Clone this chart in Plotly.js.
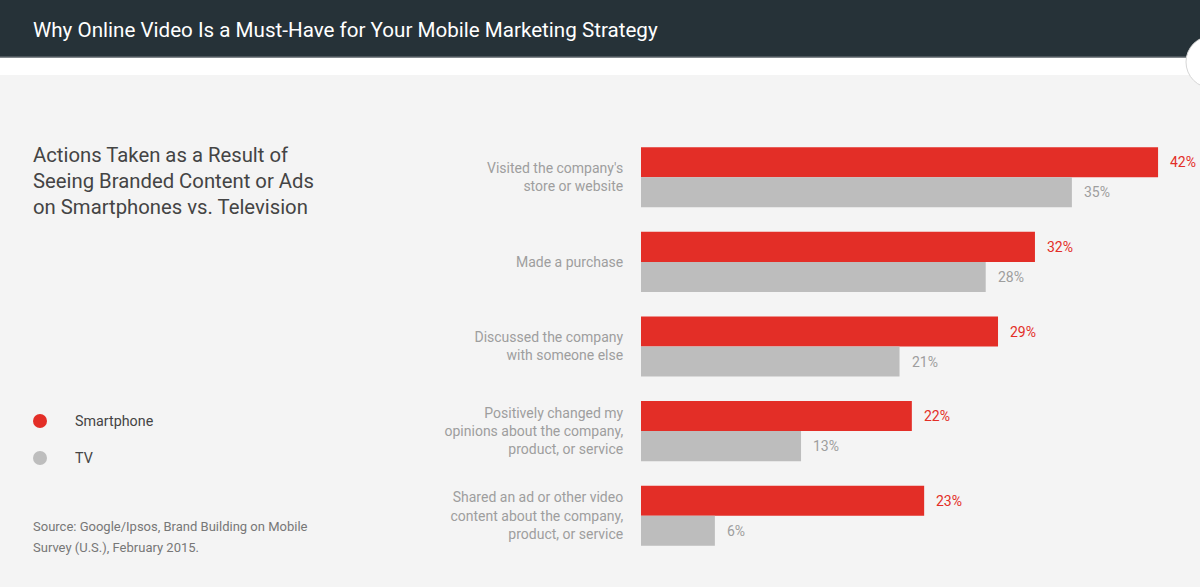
<!DOCTYPE html>
<html>
<head>
<meta charset="utf-8">
<script src="https://cdn.plot.ly/plotly-3.0.1.min.js"></script>
<style>
  html, body { margin: 0; padding: 0; background: #f4f4f4; }
  #chart { width: 1200px; height: 587px; }
</style>
</head>
<body>
<div id="chart"></div>
<script>
// Survey actions, smartphone vs TV (percent of respondents)
const categories = [
  "Visited the company's<br>store or website",
  "Made a purchase",
  "Discussed the company<br>with someone else",
  "Positively changed my<br>opinions about the company,<br>product, or service",
  "Shared an ad or other video<br>content about the company,<br>product, or service"
];
const smartphone = [42, 32, 29, 22, 23];
const tv = [35, 28, 21, 13, 6];
const seriesNames = ["Smartphone", "TV"];

const chartTitle = "Why Online Video Is a Must-Have for Your Mobile Marketing Strategy";
const subtitleLines = [
  "Actions Taken as a Result of",
  "Seeing Branded Content or Ads",
  "on Smartphones vs. Television"
];
const sourceLines = [
  "Source: Google/Ipsos, Brand Building on Mobile",
  "Survey (U.S.), February 2015."
];

const RED = "#e32e27";
const GREY = "#bdbdbd";
const FONT = "Roboto, 'Noto Sans', sans-serif";

// figure geometry
const W = 1200, H = 587;
const M = { l: 641, r: 5, t: 135, b: 29 };
const PW = W - M.l - M.r, PH = H - M.t - M.b;
const px = x => (x - M.l) / PW;          // pixel x -> paper x
const py = y => (H - M.b - y) / PH;      // pixel y -> paper y

const traces = [
  {
    type: "bar", orientation: "h", name: seriesNames[0],
    y: categories, x: smartphone,
    marker: { color: RED }, hoverinfo: "skip"
  },
  {
    type: "bar", orientation: "h", name: seriesNames[1],
    y: categories, x: tv,
    marker: { color: GREY }, hoverinfo: "skip"
  }
];

const annotations = [];
// value labels next to the bars
categories.forEach((c, i) => {
  annotations.push({
    x: smartphone[i], y: c, xref: "x", yref: "y",
    text: smartphone[i] + "%", showarrow: false,
    xanchor: "left", yanchor: "middle", xshift: 10, yshift: 15,
    font: { family: FONT, size: 14, color: RED }
  });
  annotations.push({
    x: tv[i], y: c, xref: "x", yref: "y",
    text: tv[i] + "%", showarrow: false,
    xanchor: "left", yanchor: "middle", xshift: 10, yshift: -15,
    font: { family: FONT, size: 14, color: "#9e9e9e" }
  });
});

// header title
annotations.push({
  xref: "paper", yref: "paper", x: px(31), y: py(30),
  xanchor: "left", yanchor: "middle", showarrow: false,
  text: chartTitle,
  font: { family: FONT, size: 20.6, color: "#ffffff", weight: 400 }
});

// subtitle block
subtitleLines.forEach((t, i) => {
  annotations.push({
    xref: "paper", yref: "paper", x: px(31), y: py(155 + i * 26),
    xanchor: "left", yanchor: "middle", showarrow: false,
    text: t, font: { family: FONT, size: 20.3, color: "#444444" }
  });
});

// legend entries
const legendColors = [RED, GREY];
const legendY = [421, 458];
seriesNames.forEach((n, i) => {
  annotations.push({
    xref: "paper", yref: "paper", x: px(73), y: py(legendY[i]),
    xanchor: "left", yanchor: "middle", showarrow: false,
    text: n, font: { family: FONT, size: 14.3, color: "#444444" }
  });
});

// source note
sourceLines.forEach((t, i) => {
  annotations.push({
    xref: "paper", yref: "paper", x: px(31), y: py(526 + i * 21),
    xanchor: "left", yanchor: "middle", showarrow: false,
    text: t, font: { family: FONT, size: 13, color: "#777777" }
  });
});

const shapes = [
  // dark header band
  { type: "rect", xref: "paper", yref: "paper", layer: "below",
    x0: px(0), x1: px(W), y0: py(0), y1: py(57),
    fillcolor: "#263238", line: { width: 0 } },
  { type: "line", xref: "paper", yref: "paper", layer: "below",
    x0: px(0), x1: px(W), y0: py(57), y1: py(57),
    line: { color: "#5b6368", width: 1.5 } },
  // white strip under the header
  { type: "rect", xref: "paper", yref: "paper", layer: "below",
    x0: px(0), x1: px(W), y0: py(58), y1: py(75),
    fillcolor: "#ffffff", line: { width: 0 } },
  // round button at the right edge
  { type: "circle", xref: "paper", yref: "paper",
    x0: px(1186), x1: px(1238), y0: py(36), y1: py(88),
    fillcolor: "#ffffff", line: { color: "#d6d6d6", width: 1 } }
];
legendColors.forEach((col, i) => {
  shapes.push({
    type: "circle", xref: "paper", yref: "paper",
    x0: px(33), x1: px(47), y0: py(legendY[i] - 7), y1: py(legendY[i] + 7),
    fillcolor: col, line: { width: 0 }
  });
});

const layout = {
  width: W, height: H,
  margin: M,
  paper_bgcolor: "#f4f4f4",
  plot_bgcolor: "rgba(0,0,0,0)",
  barmode: "group",
  bargap: 0.29,
  bargroupgap: 0,
  showlegend: false,
  xaxis: {
    range: [0, 45], visible: false, fixedrange: true
  },
  yaxis: {
    autorange: "reversed", type: "category",
    showgrid: false, zeroline: false, showline: false,
    ticks: "outside", ticklen: 14, tickcolor: "rgba(0,0,0,0)",
    tickfont: { family: FONT, size: 14, color: "#9e9e9e" },
    fixedrange: true
  },
  annotations: annotations,
  shapes: shapes,
  hovermode: false
};

Plotly.newPlot("chart", traces, layout, { displayModeBar: false, staticPlot: true });
</script>
</body>
</html>
